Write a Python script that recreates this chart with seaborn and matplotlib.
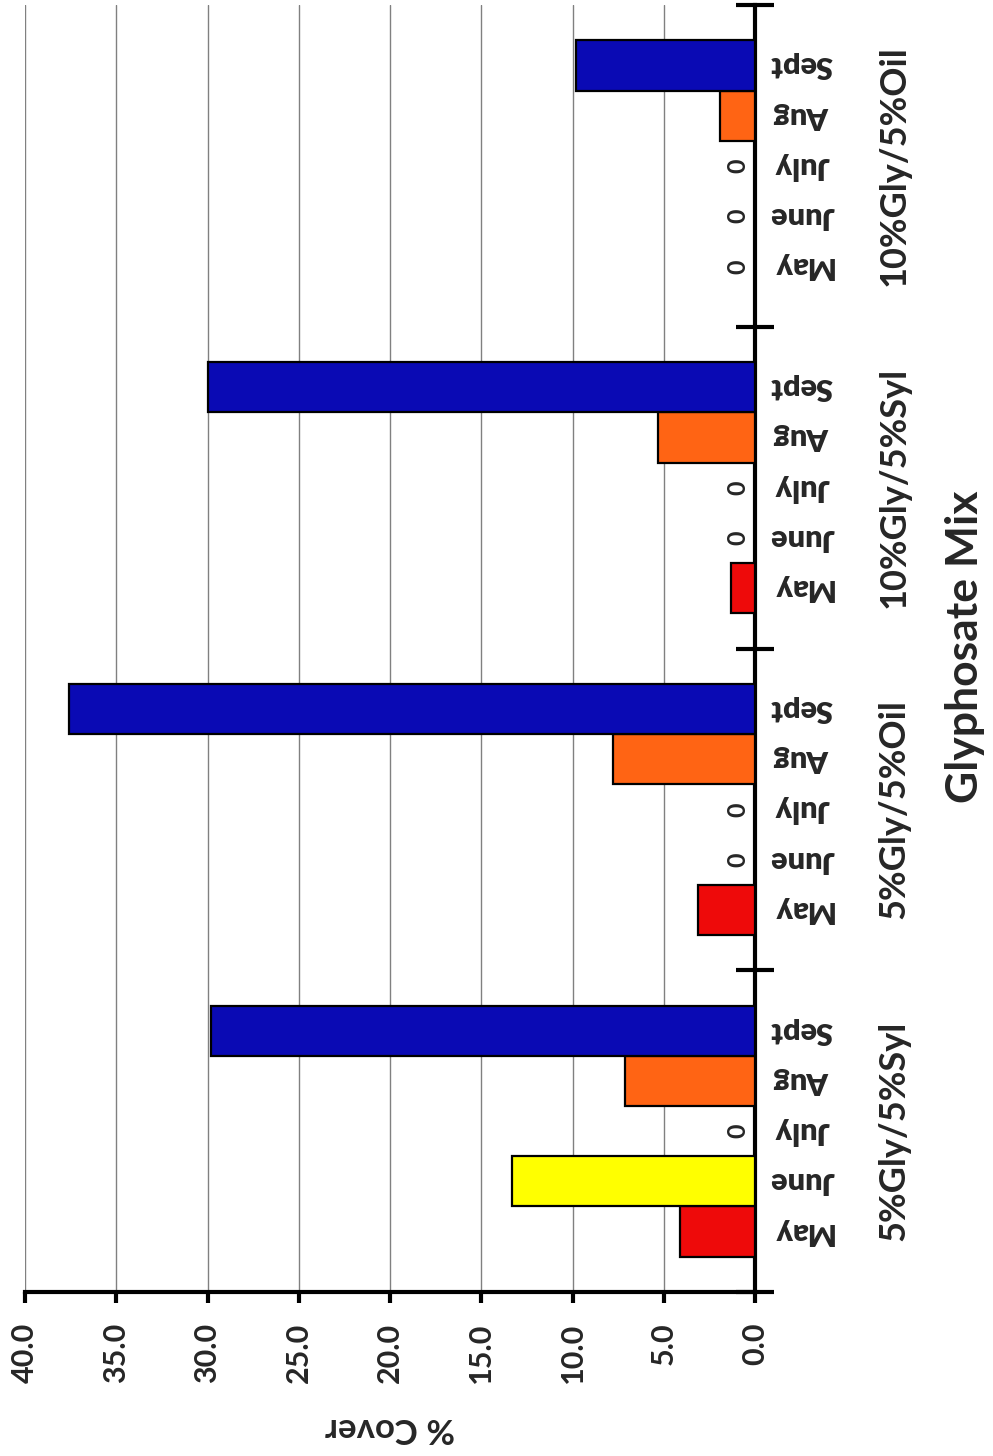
import matplotlib
matplotlib.use("Agg")
import matplotlib.pyplot as plt
import matplotlib.transforms as mtransforms
import seaborn as sns
import pandas as pd

# ---- data ----
groups = ["5%Gly/5%Syl", "5%Gly/5%Oil", "10%Gly/5%Syl", "10%Gly/5%Oil"]
months = ["May", "June", "July", "Aug", "Sept"]
may_vals = [4.1, 3.1, 1.3, 0.0]
june_vals = [13.3, 0.0, 0.0, 0.0]
july_vals = [0.0, 0.0, 0.0, 0.0]
aug_vals = [7.1, 7.8, 5.3, 1.9]
sept_vals = [29.8, 37.6, 30.0, 9.8]
tick_vals = [0, 5, 10, 15, 20, 25, 30, 35, 40]
tick_labels = ["0.0", "5.0", "10.0", "15.0", "20.0", "25.0", "30.0", "35.0", "40.0"]
month_colors = ["#ee0a0a", "#ffff00", "#ff8c00", "#ff6414", "#0a0ab4"]

series = [may_vals, june_vals, july_vals, aug_vals, sept_vals]
rows = []
for g_i, g in enumerate(groups):
    for m_i, m in enumerate(months):
        rows.append({"group": g, "month": m, "value": series[m_i][g_i]})
df = pd.DataFrame(rows)

sns.set_theme(style="white")
plt.rcParams["font.family"] = ["Lato", "DejaVu Sans"]

fig = plt.figure(figsize=(9.93, 14.56), dpi=100)
ax = fig.add_axes([25 / 993, 1 - 1292 / 1456, 730 / 993, 1287 / 1456])

bar_width = 0.78
sns.barplot(data=df, x="value", y="group", hue="month", order=groups,
            hue_order=months, palette=month_colors, orient="h",
            width=bar_width, edgecolor="black", linewidth=1.6,
            saturation=1, legend=False, ax=ax, zorder=3)

ax.set_xlim(40, 0)
ax.set_ylim(-0.5, len(groups) - 0.5)

# grid
ax.set_xticks(tick_vals)
ax.set_xticklabels(tick_labels, rotation=90, fontsize=22, fontweight="bold")
ax.grid(axis="x", color="#808080", linewidth=1.0, zorder=0)
ax.grid(axis="y", visible=False)
ax.set_axisbelow(True)

# spines
for s in ["left", "top"]:
    ax.spines[s].set_visible(False)
for s in ["right", "bottom"]:
    ax.spines[s].set_visible(True)
    ax.spines[s].set_color("black")
    ax.spines[s].set_linewidth(3)

ax.tick_params(axis="x", direction="out", length=8, width=3, color="black",
               pad=14, bottom=True)
ax.set_yticks([i - 0.5 for i in range(len(groups) + 1)])
ax.set_yticklabels([])
ax.yaxis.tick_right()
ax.tick_params(axis="y", direction="inout", length=28, width=3, color="black",
               right=True, left=False)
ax.set_xlabel("")
ax.set_ylabel("")

# category text
tr = mtransforms.blended_transform_factory(ax.transAxes, ax.transData)
step = bar_width / len(months)
for g_i, g in enumerate(groups):
    for m_i, m in enumerate(months):
        yc = g_i + (m_i - (len(months) - 1) / 2) * step
        ax.text(1.064, yc, m, transform=tr, rotation=180, ha="center",
                va="center", fontsize=22, fontweight="heavy", clip_on=False)
        if series[m_i][g_i] == 0:
            ax.text(0.977, yc, "0", transform=tr, rotation=90, ha="center",
                    va="center", fontsize=18, fontweight="bold", clip_on=False)
    ax.text(1.19, g_i, g, transform=tr, rotation=90, ha="center",
            va="center", fontsize=26, fontweight="bold", clip_on=False)

fig.text(965 / 993, 1 - 647 / 1456, "Glyphosate Mix", rotation=90,
         ha="center", va="center", fontsize=32, fontweight="bold")
fig.text(390 / 993, 1 - 1428 / 1456, "% Cover", rotation=180,
         ha="center", va="center", fontsize=25, fontweight="bold")

fig.savefig("out.png", dpi=100, facecolor="white")
